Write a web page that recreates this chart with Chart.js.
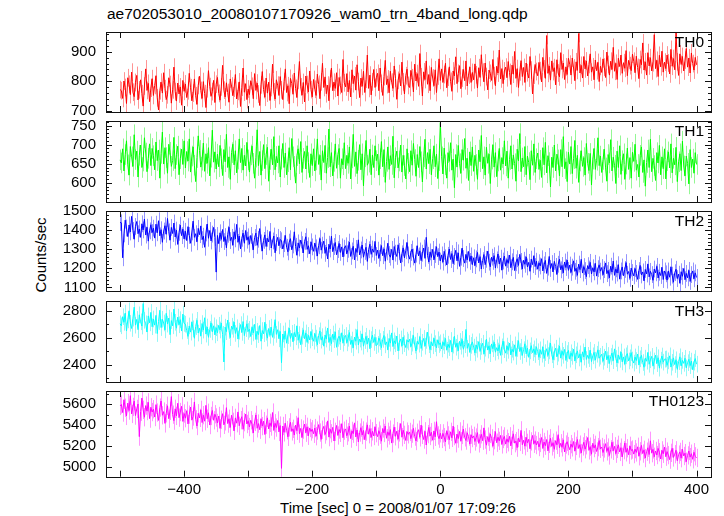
<!DOCTYPE html>
<html>
<head>
<meta charset="utf-8">
<script src="https://cdn.jsdelivr.net/npm/chart.js@4.4.1/dist/chart.umd.min.js"></script>
<style>
  html, body { margin: 0; padding: 0; background: #fff; }
  #page { position: relative; width: 724px; height: 516px; overflow: hidden;
          font-family: "Liberation Sans", Arial, Helvetica, sans-serif; color: #000; }
  .panel { position: absolute; left: 0; width: 724px; }
  #title { position: absolute; left: 107px; top: 4px; font-size: 15.5px; line-height: 20px; white-space: nowrap; }
  #ytitle { position: absolute; left: 40px; top: 255px; transform: translate(-50%, -50%) rotate(-90deg);
            font-size: 15px; white-space: nowrap; }
  #xtitle { position: absolute; left: 398px; top: 507px; transform: translate(-50%, -50%);
            font-size: 15px; white-space: nowrap; }
</style>
</head>
<body>
<div id="page">
  <div id="title">ae702053010_20080107170926_wam0_trn_4band_long.qdp</div>
  <div id="ytitle">Counts/sec</div>
  <div id="xtitle">Time [sec] 0 = 2008/01/07 17:09:26</div>
</div>
<script>
// light curve bins: 2 s, first bin at -500 s
var T_START = -500;
var BIN = 2;

var xLabelTicks = [-400, -200, 0, 200, 400];
var xTickMarks = [-500, -400, -300, -200, -100, 0, 100, 200, 300, 400];

var th0Ticks = [700, 800, 900];
var th1Ticks = [600, 650, 700, 750];
var th2Ticks = [1100, 1200, 1300, 1400, 1500];
var th3Ticks = [2400, 2600, 2800];
var th0123Ticks = [5000, 5200, 5400, 5600];

// one row = 50 s
var th0 = [772,
  768, 742, 801, 779, 725, 812, 790, 755, 831, 763, 748, 796, 820, 737, 771, 805, 758, 716, 784, 842, 769, 793, 731, 777, 809,
  752, 786, 819, 744, 703, 768, 797, 760, 829, 775, 738, 754, 812, 789, 726, 771, 848, 765, 733, 794, 757, 781, 719, 803, 766,
  791, 745, 768, 827, 778, 734, 760, 808, 751, 722, 786, 817, 769, 742, 799, 758, 711, 775, 836, 782, 749, 765, 803, 728, 790,
  813, 759, 736, 781, 854, 770, 747, 795, 762, 729, 808, 784, 751, 777, 823, 740, 766, 798, 715, 780, 845, 763, 792, 738, 774,
  755, 802, 783, 741, 826, 769, 794, 757, 718, 788, 833, 772, 746, 811, 760, 797, 735, 779, 858, 764, 740, 805, 787, 752, 816,
  771, 738, 799, 842, 762, 785, 724, 810, 793, 756, 828, 776, 745, 803, 867, 781, 753, 796, 730, 818, 789, 764, 835, 772, 747,
  806, 773, 752, 824, 790, 741, 798, 861, 779, 815, 758, 787, 734, 809, 845, 768, 797, 776, 829, 750, 813, 786, 762, 874, 795,
  781, 826, 764, 803, 747, 839, 792, 818, 770, 856, 799, 745, 811, 783, 834, 762, 807, 889, 776, 821, 754, 798, 840, 779, 812,
  827, 768, 845, 793, 752, 816, 871, 789, 808, 761, 834, 797, 776, 852, 810, 739, 803, 826, 784, 865, 798, 757, 819, 841, 786,
  779, 837, 812, 764, 858, 801, 826, 783, 894, 815, 750, 832, 806, 869, 790, 823, 768, 847, 811, 785, 839, 762, 818, 876, 803,
  842, 796, 823, 861, 778, 814, 849, 800, 766, 835, 818, 883, 792, 827, 853, 775, 811, 840, 802, 869, 784, 821, 848, 796, 830,
  805, 859, 822, 777, 846, 813, 890, 831, 798, 862, 816, 771, 838, 827, 803, 874, 819, 785, 851, 828, 906, 808, 843, 792, 835,
  848, 812, 867, 830, 789, 855, 824, 901, 810, 843, 779, 832, 870, 816, 847, 796, 862, 829, 811, 884, 838, 757, 821, 857, 833,
  819, 864, 836, 798, 881, 842, 810, 955, 827, 852, 804, 869, 833, 846, 788, 873, 828, 815, 897, 840, 862, 806, 849, 823, 878,
  858, 821, 879, 845, 802, 866, 837, 962, 828, 854, 811, 884, 842, 869, 818, 857, 893, 831, 849, 805, 872, 836, 864, 799, 851,
  830, 876, 848, 813, 899, 857, 821, 868, 840, 915, 834, 861, 806, 878, 850, 889, 827, 863, 844, 904, 819, 871, 853, 836, 892,
  868, 829, 885, 847, 809, 874, 856, 930, 838, 866, 821, 897, 852, 880, 835, 863, 958, 843, 871, 816, 888, 849, 902, 831, 865,
  843, 889, 862, 825, 908, 851, 877, 839, 965, 866, 820, 893, 857, 884, 835, 872, 911, 848, 879, 828, 896, 860, 838, 881, 856];

var th1 = [660,
  652, 689, 631, 674, 710, 647, 620, 695, 668, 643, 726, 661, 683, 615, 672, 699, 640, 657, 718, 678, 629, 664, 702, 645, 690,
  671, 634, 707, 658, 686, 612, 677, 733, 649, 692, 666, 625, 701, 680, 643, 658, 719, 637, 674, 696, 621, 663, 688, 648, 710,
  639, 682, 657, 715, 628, 670, 694, 646, 603, 666, 723, 685, 641, 659, 704, 630, 676, 651, 692, 618, 667, 738, 654, 681, 636,
  675, 642, 698, 663, 619, 687, 655, 727, 640, 668, 609, 679, 701, 647, 684, 626, 662, 715, 653, 690, 633, 672, 644, 706, 660,
  628, 673, 696, 651, 612, 667, 739, 645, 682, 620, 658, 700, 637, 674, 693, 604, 661, 688, 647, 721, 634, 669, 652, 697, 615,
  662, 703, 640, 678, 621, 655, 692, 634, 716, 668, 643, 599, 671, 689, 650, 708, 627, 664, 682, 636, 697, 653, 614, 676, 645,
  689, 631, 660, 715, 648, 672, 607, 684, 653, 698, 625, 666, 741, 642, 679, 618, 656, 702, 638, 674, 690, 612, 663, 647, 705,
  637, 672, 651, 694, 610, 665, 727, 643, 681, 624, 659, 700, 634, 676, 592, 668, 711, 646, 654, 688, 621, 673, 640, 697, 658,
  675, 620, 663, 708, 642, 687, 601, 656, 694, 635, 671, 648, 722, 613, 666, 683, 639, 657, 699, 628, 672, 645, 610, 689, 651,
  629, 684, 646, 703, 661, 617, 674, 640, 695, 655, 602, 668, 714, 636, 679, 650, 688, 621, 663, 697, 642, 675, 611, 658, 758,
  668, 623, 691, 647, 612, 679, 656, 705, 633, 662, 587, 674, 641, 698, 650, 625, 687, 659, 716, 638, 664, 606, 681, 645, 694,
  630, 672, 648, 609, 686, 655, 724, 637, 668, 620, 693, 651, 675, 598, 662, 700, 641, 679, 616, 657, 690, 633, 666, 649, 710,
  644, 683, 612, 661, 697, 636, 673, 650, 604, 688, 657, 729, 629, 665, 642, 695, 621, 670, 653, 608, 684, 646, 702, 627, 663,
  678, 635, 659, 614, 692, 647, 706, 626, 671, 653, 589, 667, 640, 699, 631, 675, 660, 618, 687, 642, 721, 637, 655, 603, 680,
  649, 695, 624, 663, 711, 638, 672, 601, 657, 684, 643, 666, 620, 703, 651, 632, 677, 594, 662, 690, 635, 659, 718, 645, 670,
  627, 661, 688, 639, 604, 674, 652, 713, 631, 667, 646, 598, 683, 640, 697, 622, 658, 676, 609, 649, 691, 635, 666, 612, 680,
  656, 701, 633, 648, 615, 672, 694, 627, 660, 591, 653, 686, 640, 714, 629, 664, 645, 606, 679, 652, 698, 621, 668, 637, 689,
  610, 658, 681, 639, 702, 626, 664, 647, 693, 603, 655, 676, 632, 709, 644, 618, 670, 651, 597, 687, 640, 662, 625, 679, 648];

var th2 = [1440,
  1438, 1255, 1380, 1452, 1411, 1366, 1427, 1390, 1472, 1398, 1352, 1419, 1445, 1381, 1406, 1362, 1433, 1401, 1458, 1374, 1415, 1342, 1396, 1428, 1387,
  1410, 1358, 1431, 1386, 1449, 1370, 1402, 1336, 1395, 1423, 1378, 1461, 1391, 1347, 1414, 1382, 1437, 1364, 1400, 1325, 1388, 1426, 1371, 1405, 1353,
  1394, 1345, 1418, 1372, 1331, 1390, 1447, 1362, 1381, 1339, 1409, 1376, 1422, 1350, 1368, 1310, 1385, 1432, 1357, 1398, 1343, 1379, 1414, 1361, 1180,
  1372, 1329, 1386, 1351, 1403, 1340, 1366, 1307, 1378, 1415, 1345, 1362, 1321, 1391, 1354, 1430, 1336, 1369, 1302, 1357, 1384, 1331, 1398, 1347, 1365,
  1326, 1372, 1339, 1297, 1361, 1384, 1320, 1352, 1408, 1333, 1290, 1346, 1375, 1314, 1357, 1338, 1393, 1306, 1343, 1369, 1281, 1335, 1362, 1318, 1351,
  1344, 1301, 1329, 1372, 1310, 1286, 1337, 1355, 1297, 1322, 1391, 1315, 1268, 1333, 1306, 1348, 1324, 1280, 1341, 1365, 1299, 1318, 1276, 1339, 1312,
  1289, 1332, 1307, 1264, 1318, 1356, 1295, 1321, 1342, 1278, 1310, 1249, 1326, 1301, 1368, 1287, 1314, 1335, 1271, 1298, 1330, 1283, 1312, 1259, 1305,
  1318, 1276, 1299, 1337, 1262, 1291, 1315, 1244, 1304, 1283, 1349, 1270, 1296, 1322, 1258, 1288, 1310, 1236, 1297, 1326, 1273, 1301, 1284, 1341, 1267,
  1295, 1252, 1281, 1319, 1266, 1302, 1237, 1286, 1331, 1272, 1258, 1299, 1243, 1314, 1279, 1262, 1323, 1288, 1228, 1276, 1307, 1254, 1292, 1335, 1270,
  1248, 1283, 1301, 1259, 1227, 1274, 1318, 1265, 1291, 1240, 1279, 1306, 1252, 1362, 1268, 1233, 1286, 1257, 1299, 1244, 1272, 1313, 1261, 1285, 1238,
  1270, 1232, 1289, 1255, 1217, 1268, 1301, 1246, 1277, 1224, 1262, 1294, 1239, 1281, 1210, 1258, 1306, 1251, 1227, 1273, 1244, 1288, 1236, 1265, 1219,
  1255, 1214, 1249, 1283, 1228, 1261, 1196, 1240, 1272, 1219, 1247, 1290, 1232, 1208, 1258, 1236, 1266, 1201, 1244, 1275, 1222, 1253, 1190, 1238, 1264,
  1211, 1246, 1226, 1269, 1203, 1234, 1257, 1188, 1229, 1250, 1215, 1273, 1236, 1196, 1242, 1221, 1260, 1207, 1231, 1184, 1248, 1219, 1266, 1209, 1237,
  1195, 1229, 1212, 1250, 1186, 1218, 1241, 1173, 1206, 1262, 1199, 1225, 1181, 1236, 1210, 1168, 1221, 1247, 1192, 1215, 1176, 1233, 1204, 1243, 1189,
  1217, 1178, 1206, 1239, 1184, 1200, 1163, 1222, 1193, 1247, 1175, 1209, 1188, 1156, 1214, 1196, 1231, 1170, 1203, 1181, 1226, 1159, 1198, 1218, 1185,
  1204, 1166, 1193, 1228, 1172, 1189, 1150, 1211, 1180, 1238, 1163, 1197, 1175, 1219, 1143, 1186, 1207, 1161, 1194, 1230, 1169, 1183, 1147, 1201, 1178,
  1160, 1199, 1173, 1142, 1188, 1215, 1165, 1181, 1134, 1194, 1170, 1223, 1155, 1184, 1167, 1137, 1196, 1176, 1210, 1149, 1179, 1162, 1205, 1141, 1186,
  1171, 1138, 1186, 1153, 1208, 1164, 1127, 1177, 1195, 1146, 1169, 1121, 1182, 1158, 1199, 1140, 1173, 1150, 1189, 1131, 1167, 1186, 1145, 1176, 1152];

var th3 = [2705,
  2690, 2758, 2716, 2785, 2651, 2734, 2802, 2709, 2670, 2747, 2829, 2695, 2738, 2661, 2772, 2720, 2688, 2856, 2731, 2705, 2644, 2764, 2712, 2790, 2683,
  2741, 2695, 2768, 2632, 2722, 2806, 2677, 2739, 2711, 2660, 2783, 2703, 2748, 2624, 2729, 2690, 2815, 2716, 2672, 2755, 2698, 2736, 2651, 2777, 2708,
  2702, 2655, 2611, 2689, 2643, 2720, 2668, 2597, 2684, 2731, 2636, 2672, 2615, 2707, 2658, 2750, 2628, 2681, 2604, 2663, 2712, 2645, 2690, 2622, 2676,
  2638, 2694, 2659, 2711, 2627, 2420, 2680, 2646, 2733, 2655, 2602, 2687, 2664, 2718, 2633, 2676, 2591, 2650, 2699, 2641, 2722, 2617, 2669, 2705, 2648,
  2664, 2610, 2683, 2637, 2701, 2588, 2649, 2624, 2692, 2575, 2655, 2631, 2717, 2642, 2598, 2670, 2619, 2680, 2604, 2657, 2736, 2626, 2661, 2593, 2648,
  2415, 2629, 2588, 2652, 2560, 2617, 2673, 2596, 2634, 2571, 2641, 2608, 2690, 2582, 2625, 2549, 2613, 2660, 2594, 2637, 2566, 2619, 2584, 2648, 2601,
  2575, 2633, 2598, 2549, 2617, 2652, 2583, 2609, 2538, 2622, 2591, 2674, 2566, 2604, 2557, 2629, 2587, 2645, 2530, 2596, 2613, 2572, 2638, 2560, 2603,
  2618, 2563, 2597, 2640, 2551, 2584, 2526, 2606, 2575, 2662, 2547, 2591, 2569, 2630, 2538, 2580, 2612, 2555, 2598, 2519, 2587, 2621, 2566, 2604, 2542,
  2552, 2600, 2573, 2527, 2589, 2618, 2548, 2570, 2511, 2596, 2561, 2637, 2535, 2578, 2556, 2614, 2502, 2566, 2592, 2540, 2607, 2557, 2528, 2583, 2569,
  2590, 2534, 2561, 2618, 2546, 2502, 2575, 2553, 2609, 2521, 2567, 2596, 2538, 2581, 2643, 2549, 2512, 2570, 2541, 2598, 2557, 2525, 2586, 2550, 2563,
  2517, 2569, 2542, 2596, 2508, 2553, 2527, 2581, 2494, 2546, 2612, 2530, 2561, 2503, 2574, 2538, 2589, 2515, 2549, 2663, 2522, 2558, 2491, 2544, 2570,
  2531, 2488, 2547, 2515, 2572, 2499, 2536, 2560, 2478, 2523, 2590, 2509, 2541, 2482, 2555, 2519, 2568, 2493, 2527, 2502, 2549, 2470, 2533, 2576, 2512,
  2486, 2539, 2507, 2561, 2473, 2515, 2494, 2548, 2462, 2521, 2579, 2498, 2530, 2469, 2512, 2556, 2481, 2524, 2455, 2503, 2542, 2490, 2518, 2476, 2534,
  2497, 2455, 2511, 2478, 2532, 2446, 2490, 2519, 2468, 2503, 2561, 2474, 2437, 2495, 2523, 2459, 2486, 2540, 2449, 2501, 2470, 2514, 2432, 2483, 2507,
  2441, 2489, 2462, 2515, 2427, 2474, 2503, 2450, 2481, 2418, 2496, 2457, 2532, 2439, 2470, 2445, 2508, 2423, 2466, 2492, 2434, 2478, 2511, 2448, 2463,
  2478, 2425, 2456, 2501, 2437, 2469, 2409, 2461, 2487, 2430, 2518, 2446, 2413, 2472, 2440, 2495, 2421, 2458, 2404, 2466, 2483, 2428, 2451, 2490, 2435,
  2412, 2458, 2431, 2479, 2397, 2444, 2470, 2416, 2381, 2449, 2426, 2492, 2403, 2437, 2462, 2389, 2428, 2471, 2408, 2452, 2374, 2434, 2465, 2419, 2441,
  2443, 2395, 2429, 2466, 2382, 2418, 2451, 2401, 2437, 2365, 2423, 2459, 2390, 2432, 2410, 2448, 2376, 2415, 2440, 2393, 2427, 2362, 2419, 2446, 2404];

var th0123 = [5585,
  5598, 5521, 5644, 5567, 5489, 5612, 5540, 5683, 5508, 5575, 5631, 5492, 5556, 5603, 5290, 5529, 5660, 5547, 5476, 5588, 5535, 5619, 5463, 5572, 5526,
  5553, 5478, 5597, 5521, 5446, 5569, 5632, 5495, 5530, 5417, 5514, 5586, 5462, 5538, 5674, 5501, 5443, 5557, 5489, 5610, 5472, 5526, 5581, 5436, 5512,
  5467, 5539, 5412, 5501, 5574, 5448, 5483, 5623, 5456, 5392, 5514, 5470, 5547, 5425, 5496, 5438, 5590, 5462, 5519, 5401, 5488, 5541, 5447, 5505, 5474,
  5421, 5488, 5369, 5452, 5510, 5403, 5437, 5568, 5415, 5461, 5378, 5495, 5432, 5346, 5470, 5419, 5527, 5394, 5448, 5481, 5360, 5429, 5506, 5411, 5443,
  5382, 5447, 5409, 5325, 5431, 5498, 5370, 5415, 5356, 5462, 5391, 5438, 5310, 5404, 5470, 5363, 5422, 5387, 5521, 5349, 5418, 5377, 5445, 5335, 5396,
  4985, 5392, 5331, 5418, 5352, 5288, 5379, 5427, 5340, 5365, 5305, 5401, 5346, 5472, 5318, 5369, 5281, 5357, 5410, 5327, 5384, 5298, 5373, 5339, 5361,
  5317, 5372, 5294, 5348, 5405, 5329, 5263, 5356, 5388, 5310, 5343, 5441, 5285, 5361, 5322, 5379, 5248, 5336, 5397, 5301, 5358, 5326, 5414, 5279, 5347,
  5364, 5298, 5332, 5391, 5271, 5345, 5318, 5422, 5287, 5354, 5239, 5329, 5376, 5305, 5349, 5260, 5338, 5403, 5313, 5367, 5282, 5341, 5296, 5385, 5323,
  5290, 5347, 5309, 5246, 5368, 5325, 5392, 5274, 5336, 5301, 5357, 5228, 5319, 5381, 5293, 5342, 5265, 5330, 5415, 5284, 5351, 5307, 5253, 5338, 5312,
  5335, 5271, 5318, 5369, 5290, 5248, 5327, 5356, 5283, 5401, 5307, 5262, 5341, 5209, 5314, 5378, 5296, 5332, 5255, 5345, 5288, 5433, 5301, 5270, 5322,
  5268, 5321, 5285, 5239, 5347, 5302, 5260, 5336, 5278, 5391, 5295, 5226, 5314, 5271, 5340, 5245, 5306, 5362, 5283, 5252, 5327, 5290, 5218, 5309, 5276,
  5297, 5243, 5281, 5328, 5225, 5269, 5312, 5251, 5374, 5262, 5208, 5290, 5240, 5316, 5273, 5197, 5256, 5338, 5231, 5284, 5249, 5301, 5215, 5267, 5292,
  5218, 5269, 5236, 5293, 5201, 5258, 5317, 5227, 5247, 5184, 5276, 5239, 5350, 5212, 5255, 5198, 5283, 5230, 5264, 5173, 5244, 5301, 5221, 5252, 5209,
  5245, 5190, 5229, 5281, 5176, 5238, 5203, 5262, 5153, 5220, 5274, 5196, 5232, 5168, 5251, 5211, 5309, 5183, 5226, 5187, 5259, 5142, 5214, 5241, 5199,
  5164, 5218, 5187, 5243, 5150, 5201, 5262, 5176, 5213, 5132, 5196, 5236, 5169, 5207, 5281, 5158, 5194, 5121, 5226, 5180, 5211, 5147, 5189, 5252, 5173,
  5190, 5137, 5176, 5222, 5148, 5185, 5109, 5168, 5236, 5154, 5197, 5126, 5172, 5211, 5143, 5184, 5095, 5160, 5229, 5139, 5178, 5116, 5201, 5157, 5166,
  5122, 5170, 5138, 5192, 5101, 5149, 5206, 5127, 5163, 5084, 5145, 5183, 5118, 5250, 5131, 5168, 5096, 5152, 5113, 5177, 5140, 5075, 5158, 5125, 5189,
  5097, 5146, 5112, 5069, 5134, 5178, 5090, 5121, 5159, 5058, 5117, 5143, 5083, 5168, 5104, 5131, 5049, 5110, 5152, 5093, 5126, 5072, 5140, 5101, 5085];

var FONT = '"Liberation Sans", Arial, Helvetica, sans-serif';
Chart.defaults.font.family = FONT;
Chart.defaults.color = '#000';

// panel frame edges in page pixels (top of TH0 .. bottom of TH0123)
var edges = [27.3, 116.7, 206.7, 296, 386.7, 476.7];
var PLOT_LEFT = 106, PLOT_RIGHT = 711;

var panels = [
  { name: 'TH0',    values: th0,    ticks: th0Ticks,    min: 696,   max: 967,  minor: 20,  major: 100, err: 30, color: '#ff0000', light: 'rgba(255,0,0,0.42)' },
  { name: 'TH1',    values: th1,    ticks: th1Ticks,    min: 549.5, max: 762,  minor: 10,  major: 50,  err: 27, color: '#00ff00', light: 'rgba(0,235,0,0.42)' },
  { name: 'TH2',    values: th2,    ticks: th2Ticks,    min: 1081,  max: 1500, minor: 20,  major: 100, err: 44, color: '#0000ff', light: 'rgba(0,0,255,0.42)' },
  { name: 'TH3',    values: th3,    ticks: th3Ticks,    min: 2271,  max: 2875, minor: 100, major: 200, err: 62, color: '#00ffff', light: 'rgba(0,235,235,0.42)' },
  { name: 'TH0123', values: th0123, ticks: th0123Ticks, min: 4905,  max: 5728, minor: 100, major: 200, err: 88, color: '#ff00ff', light: 'rgba(255,0,255,0.42)' }
];

function fmt(v) { return v < 0 ? '\u2212' + Math.abs(v) : String(v); }

var decor = {
  id: 'decor',
  // error bars under the line
  beforeDatasetsDraw: function(chart) {
    var ds = chart.data.datasets[0];
    var ctx = chart.ctx, a = chart.chartArea, xs = chart.scales.x, ys = chart.scales.y;
    ctx.save();
    ctx.beginPath();
    ctx.rect(a.left, a.top, a.right - a.left, a.bottom - a.top);
    ctx.clip();
    ctx.strokeStyle = ds.errColor;
    ctx.lineWidth = 1;
    ctx.beginPath();
    ds.data.forEach(function(p) {
      var px = Math.round(xs.getPixelForValue(p.x)) + 0.5;
      ctx.moveTo(px, ys.getPixelForValue(p.y - ds.errBar));
      ctx.lineTo(px, ys.getPixelForValue(p.y + ds.errBar));
    });
    ctx.stroke();
    ctx.restore();
  },
  // frame, inward ticks and the panel name
  afterDraw: function(chart) {
    var ds = chart.data.datasets[0];
    var ctx = chart.ctx, a = chart.chartArea, xs = chart.scales.x, ys = chart.scales.y;
    ctx.save();
    ctx.strokeStyle = '#111';
    ctx.lineWidth = 1;
    ctx.strokeRect(Math.round(a.left) + 0.5, Math.round(a.top) + 0.5,
                   Math.round(a.right - a.left), Math.round(a.bottom - a.top));
    ctx.beginPath();
    xTickMarks.forEach(function(t) {
      var px = Math.round(xs.getPixelForValue(t)) + 0.5;
      ctx.moveTo(px, a.top); ctx.lineTo(px, a.top + 6);
      ctx.moveTo(px, a.bottom); ctx.lineTo(px, a.bottom - 6);
    });
    var step = ds.minorStep;
    for (var v = Math.ceil(ys.min / step) * step; v <= ys.max; v += step) {
      var py = Math.round(ys.getPixelForValue(v)) + 0.5;
      var len = (v % ds.majorStep === 0) ? 6 : 3;
      ctx.moveTo(a.left, py); ctx.lineTo(a.left + len, py);
      ctx.moveTo(a.right, py); ctx.lineTo(a.right - len, py);
    }
    ctx.stroke();
    ctx.fillStyle = '#000';
    ctx.font = '15.5px ' + FONT;
    ctx.textAlign = 'right';
    ctx.textBaseline = 'middle';
    ctx.fillText(ds.name, a.right - 7, a.top + 11);
    ctx.restore();
  }
};

var page = document.getElementById('page');
panels.forEach(function(p, i) {
  var top = edges[i], bottom = edges[i + 1];
  var isLast = i === panels.length - 1;
  var cTop = Math.floor(top) - 14;
  var cBottom = isLast ? 516 : Math.ceil(bottom) + 14;
  var div = document.createElement('div');
  div.className = 'panel';
  div.style.top = cTop + 'px';
  div.style.height = (cBottom - cTop) + 'px';
  var canvas = document.createElement('canvas');
  div.appendChild(canvas);
  page.appendChild(div);

  new Chart(canvas, {
    type: 'line',
    data: {
      datasets: [{
        name: p.name,
        data: p.values.map(function(v, k) { return { x: T_START + k * BIN, y: v }; }),
        borderColor: p.color,
        borderWidth: 1,
        borderJoinStyle: 'round',
        pointRadius: 0,
        tension: 0,
        fill: false,
        errBar: p.err,
        errColor: p.light,
        minorStep: p.minor,
        majorStep: p.major
      }]
    },
    options: {
      responsive: true,
      maintainAspectRatio: false,
      animation: false,
      events: [],
      layout: {
        padding: { top: top - cTop, bottom: isLast ? 0 : cBottom - bottom, left: 0, right: 724 - PLOT_RIGHT }
      },
      plugins: { legend: { display: false }, tooltip: { enabled: false }, title: { display: false } },
      scales: {
        x: {
          type: 'linear',
          display: isLast,
          min: -522,
          max: 422.6,
          afterBuildTicks: function(s) { s.ticks = xLabelTicks.map(function(v) { return { value: v }; }); },
          afterFit: function(s) { if (isLast) s.height = cBottom - bottom; },
          grid: { display: false, drawTicks: false },
          border: { display: false },
          ticks: { autoSkip: false, maxRotation: 0, padding: 4, font: { size: 15 }, color: '#000', callback: fmt }
        },
        y: {
          type: 'linear',
          min: p.min,
          max: p.max,
          afterBuildTicks: function(s) { s.ticks = p.ticks.map(function(v) { return { value: v }; }); },
          afterFit: function(s) { s.width = PLOT_LEFT; },
          grid: { display: false, drawTicks: false },
          border: { display: false },
          ticks: { autoSkip: false, padding: 10, font: { size: 15 }, color: '#000', callback: fmt }
        }
      }
    },
    plugins: [decor]
  });
});
</script>
</body>
</html>
